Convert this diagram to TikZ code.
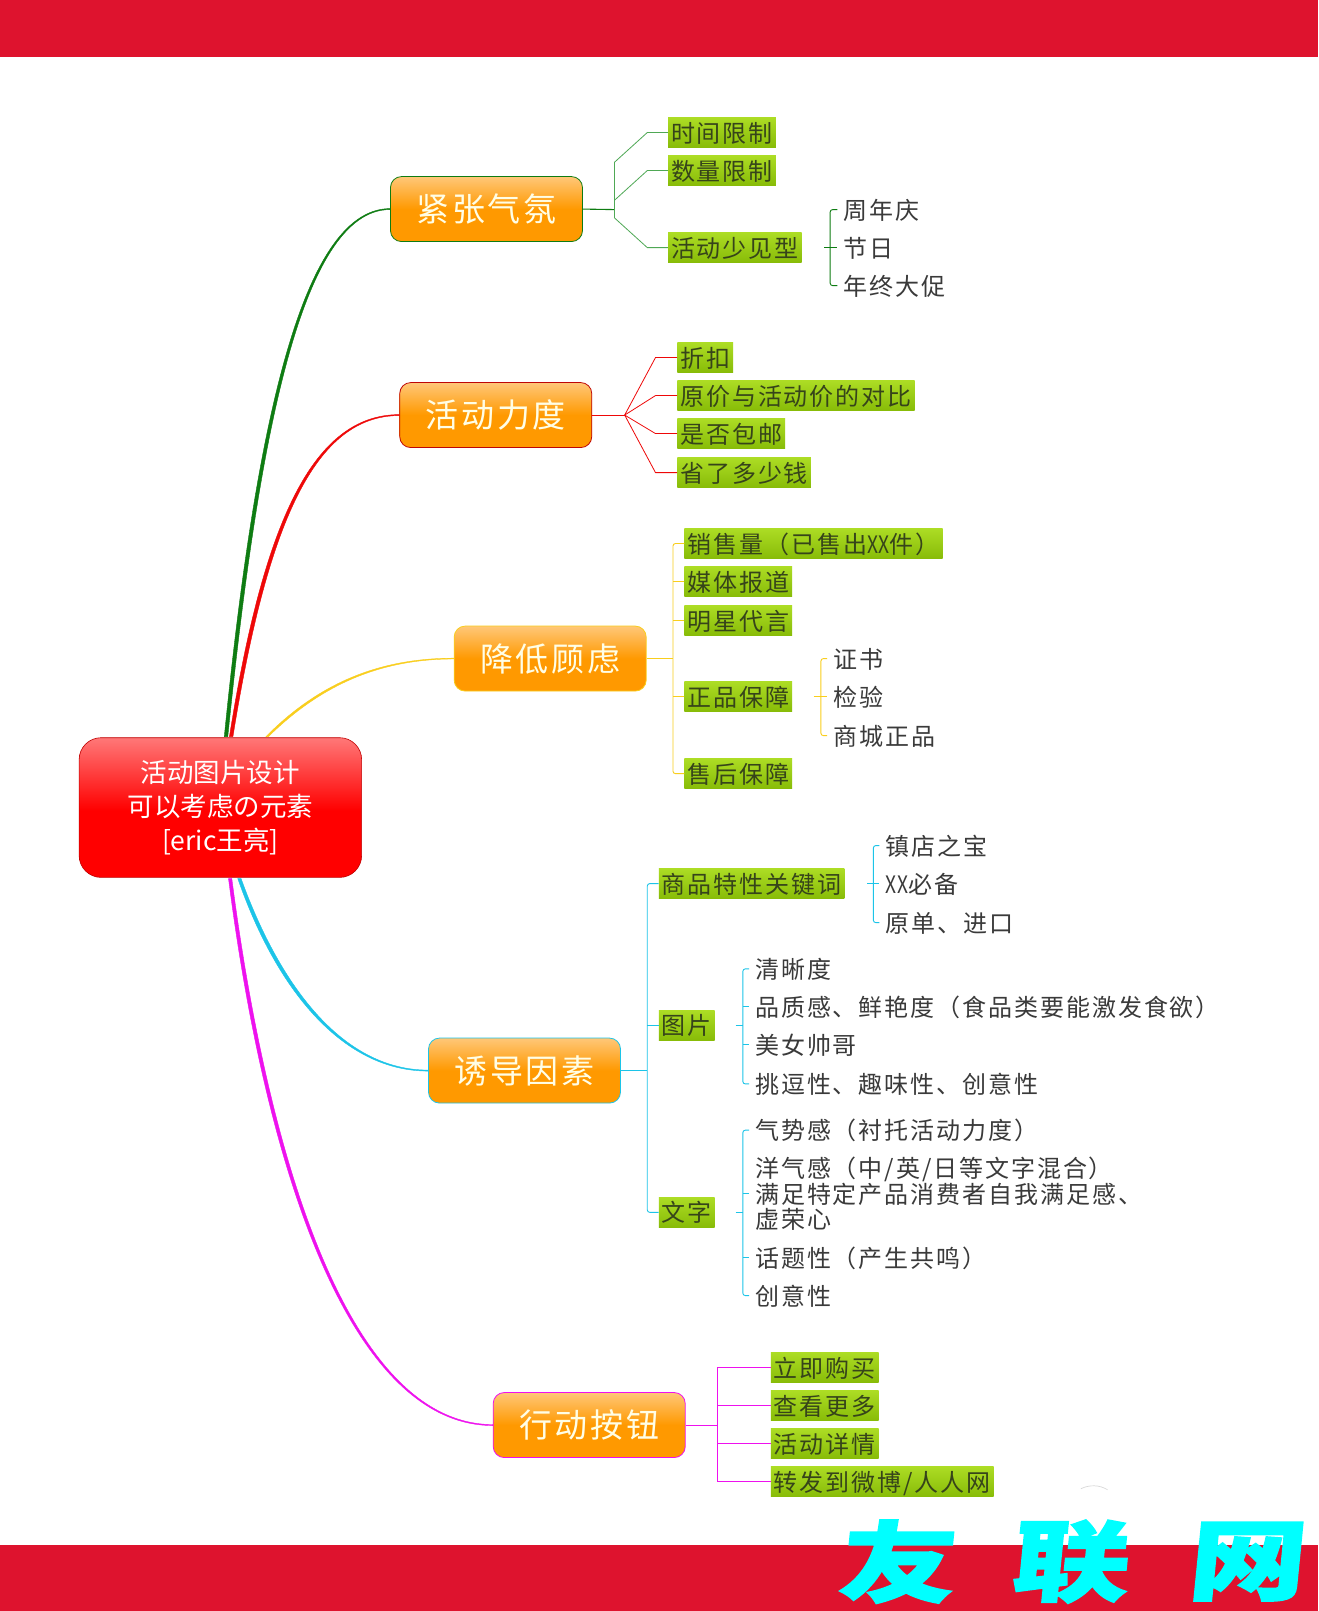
\documentclass[tikz,border=0pt]{standalone}
\usepackage{fontspec}
\newfontfamily\cjk[LetterSpace=8]{Noto Sans CJK SC}
\newfontfamily\cjkroot{Noto Sans CJK SC}
\newfontfamily\cjknarrow[FakeStretch=.8,LetterSpace=3]{Noto Sans CJK SC}
\newfontfamily\wmfont[FakeBold=2,FakeStretch=1.33,FakeSlant=0.1]{Noto Sans CJK SC}
\newcommand{\narrowxx}{{\cjknarrow\fontsize{24}{25}\selectfont XX}}
\definecolor{barred}{HTML}{DE132E}
\definecolor{bgreen}{HTML}{0E7C12}
\definecolor{bred}{HTML}{EE0808}
\definecolor{byellow}{HTML}{F9CE1D}
\definecolor{bcyan}{HTML}{1CC4E8}
\definecolor{bmag}{HTML}{EE11EE}
\definecolor{lgreen}{HTML}{4FA855}
\definecolor{inkdark}{HTML}{36441A}
\definecolor{inkgray}{HTML}{3A3A3A}
\definecolor{wmcyan}{HTML}{00FFFF}
\pgfdeclareverticalshading{topicfade}{100bp}{rgb(0bp)=(1,0.6,0); rgb(50bp)=(1,0.6,0); rgb(75bp)=(1,0.78,0.47); rgb(100bp)=(1,0.78,0.47)}
\pgfdeclareverticalshading{rootfade}{100bp}{rgb(0bp)=(1,0,0); rgb(49bp)=(1,0,0); rgb(75bp)=(1,0.47,0.47); rgb(100bp)=(1,0.47,0.47)}
\tikzset{
  bar/.style={fill=barred,draw=none},
  rootbox/.style={rounded corners=22pt,minimum width=282.5pt,minimum height=139.7pt,inner sep=0pt,
    shading=rootfade,draw=red!75!black,line width=.6pt,
    text=white,align=center,font=\cjkroot\fontsize{26.5}{34.4}\selectfont},
  topicbox/.style={rounded corners=11pt,minimum width=192pt,minimum height=65pt,inner sep=0pt,
    shading=topicfade,
    text=white!90!yellow,font=\cjk\fontsize{33}{36}\selectfont,line width=.8pt},
  glabel/.style={anchor=west,inner xsep=3pt,inner ysep=0pt,minimum height=29.5pt,
    top color={rgb,255:red,172;green,220;blue,36},bottom color={rgb,255:red,136;green,188;blue,8},
    text=inkdark,font=\cjk\fontsize{24}{25}\selectfont,text height=21.5pt,text depth=2.5pt},
  plabel/.style={anchor=west,inner xsep=6pt,inner ysep=0pt,text=inkgray,align=left,
    font=\cjk\fontsize{24}{25.2}\selectfont,text height=21.5pt,text depth=2.5pt},
  thinline/.style={line width=.8pt},
  twig/.style={line width=.9pt,rounded corners=2.5pt},
  wmark/.style={text=wmcyan,inner sep=0pt,font=\wmfont\bfseries\fontsize{88}{92}\selectfont}
}
\begin{document}
\begin{tikzpicture}[x=1.02729pt,y=-1.02729pt]
\useasboundingbox (0,0) rectangle (1283,1568);
\fill[white] (0,0) rectangle (1283,1568);
\fill[bar] (0,0) rectangle (1283,55.5);
\fill[bar] (0,1504) rectangle (1283,1568);

% root and topics
\node[rootbox] (root) at (214.5,786) {活动图片设计\\可以考虑の元素\\{[eric王亮]}};
\node[topicbox,draw=bgreen] (A) at (473.5,203.5) {紧张气氛};
\node[topicbox,draw=bred!80!black] (B) at (482.5,404) {活动力度};
\node[topicbox,draw=byellow] (C) at (535.5,641) {降低顾虑};
\node[topicbox,draw=bcyan] (D) at (510.5,1042) {诱导因素};
\node[topicbox,draw=bmag] (E) at (573.5,1387) {行动按钮};

% tapered connectors from the root
\draw[bgreen,fill=bgreen,line width=.4pt] (218.3,717) .. controls (246,440) and (289,203) .. ([yshift=.5pt]A.west) -- ([yshift=-.5pt]A.west) .. controls (291,204) and (250,440) .. (221.7,717) -- cycle;
\draw[bred,fill=bred,line width=.4pt] (223.3,717) .. controls (256,510) and (304,403.5) .. ([yshift=.5pt]B.west) -- ([yshift=-.5pt]B.west) .. controls (306,404.5) and (260,510) .. (226.7,717) -- cycle;
\draw[byellow,fill=byellow,line width=.4pt] (258.8,717) .. controls (314,661) and (375,640.6) .. ([yshift=.4pt]C.west) -- ([yshift=-.4pt]C.west) .. controls (375,641.4) and (316,663) .. (261.2,717) -- cycle;
\draw[bcyan,fill=bcyan,line width=.4pt] (231.4,855) .. controls (270,966) and (335,1042.5) .. ([yshift=-.5pt]D.west) -- ([yshift=.5pt]D.west) .. controls (336,1041.5) and (274,964) .. (234.6,855) -- cycle;
\draw[bmag,fill=bmag,line width=.4pt] (222.4,855) .. controls (260,1150) and (344,1387.5) .. ([yshift=-.5pt]E.west) -- ([yshift=.5pt]E.west) .. controls (346,1386.5) and (264,1150) .. (225.6,855) -- cycle;

% branch A
\node[glabel] (a1) at (650,129) {时间限制};
\node[glabel] (a2) at (650,166) {数量限制};
\node[glabel] (a3) at (650,241) {活动少见型};
\coordinate (aj) at (598,204);
\coordinate (aT) at (598,158);
\coordinate (aM) at (598,195);
\coordinate (aB) at (598,212);
\draw[bgreen,line width=1.1pt] (A.east) -- (aj);
\draw[lgreen,thinline] (aT) -- (aB);
\draw[lgreen,thinline] (aT) -- (630,129) -- (a1.west);
\draw[lgreen,thinline] (aM) -- (630,166) -- (a2.west);
\draw[lgreen,thinline] (aB) -- (630,241) -- (a3.west);
\node[plabel] (a31) at (815,204) {周年庆};
\node[plabel] (a32) at (815,241) {节日};
\node[plabel] (a33) at (815,278) {年终大促};
\coordinate (aj2) at (808,241);
\draw[bgreen,twig] (a31.west) -| (aj2) |- (a33.west);
\draw[bgreen,twig] (802,241) -- (a32.west);

% branch B
\node[glabel] (b1) at (659,348) {折扣};
\node[glabel] (b2) at (659,385) {原价与活动价的对比};
\node[glabel] (b3) at (659,422) {是否包邮};
\node[glabel] (b4) at (659,460) {省了多少钱};
\coordinate (bj) at (608,404);
\draw[bred,line width=1pt] (B.east) -- (bj);
\draw[bred,thinline] (bj) -- (638,348) -- (b1.west);
\draw[bred,thinline] (bj) -- (638,385) -- (b2.west);
\draw[bred,thinline] (bj) -- (638,422) -- (b3.west);
\draw[bred,thinline] (bj) -- (638,460) -- (b4.west);

% branch C
\node[glabel] (c1) at (666,529) {销售量（已售出\narrowxx 件）};
\node[glabel] (c2) at (666,566) {媒体报道};
\node[glabel] (c3) at (666,604) {明星代言};
\node[glabel] (c4) at (666,678) {正品保障};
\node[glabel] (c5) at (666,753) {售后保障};
\coordinate (cj) at (655,641);
\draw[byellow,line width=1.1pt] (C.east) -- (cj);
\draw[byellow,twig] (c1.west) -| (cj) |- (c5.west);
\foreach \n in {c2,c3,c4} \draw[byellow,twig] (\n.west) -- (\n.west -| cj);
\node[plabel] (c41) at (805,641) {证书};
\node[plabel] (c42) at (805,678) {检验};
\node[plabel] (c43) at (805,716) {商城正品};
\coordinate (cj2) at (799,678);
\draw[byellow,twig] (c41.west) -| (cj2) |- (c43.west);
\draw[byellow,twig] (792,678) -- (c42.west);

% branch D
\node[glabel] (d1) at (641,860) {商品特性关键词};
\node[glabel] (d2) at (641,998) {图片};
\node[glabel] (d3) at (641,1180) {文字};
\coordinate (dj) at (630,1042);
\draw[bcyan,line width=1.1pt] (D.east) -- (dj);
\draw[bcyan,twig] (d1.west) -| (dj) |- (d3.west);
\draw[bcyan,twig] (d2.west) -- (d2.west -| dj);
\node[plabel] (d11) at (856,823) {镇店之宝};
\node[plabel] (d12) at (856,860) {\narrowxx 必备};
\node[plabel] (d13) at (856,898) {原单、进口};
\coordinate (dj1) at (850,860);
\draw[bcyan,twig] (d11.west) -| (dj1) |- (d13.west);
\draw[bcyan,twig] (844,860) -- (d12.west);
\node[plabel] (d21) at (729,943) {清晰度};
\node[plabel] (d22) at (729,980) {品质感、鲜艳度（食品类要能激发食欲）};
\node[plabel] (d23) at (729,1017) {美女帅哥};
\node[plabel] (d24) at (729,1055) {挑逗性、趣味性、创意性};
\coordinate (dj2) at (723,998);
\draw[bcyan,twig] (d21.west) -| (dj2) |- (d24.west);
\draw[bcyan,twig] (716,998) -- (dj2);
\foreach \n in {d22,d23} \draw[bcyan,twig] (\n.west) -- (\n.west -| dj2);
\node[plabel] (d31) at (729,1100) {气势感（衬托活动力度）};
\node[plabel,text height=,text depth=] (d32) at (729,1162) {洋气感（中/英/日等文字混合）\\满足特定产品消费者自我满足感、\\虚荣心};
\node[plabel] (d33) at (729,1224) {话题性（产生共鸣）};
\node[plabel] (d34) at (729,1261) {创意性};
\coordinate (dj3) at (723,1180);
\draw[bcyan,twig] (d31.west) -| (dj3) |- (d34.west);
\draw[bcyan,twig] (716,1180) -- (dj3);
\foreach \n in {d32,d33} \draw[bcyan,twig] (\n.west) -- (\n.west -| dj3);

% branch E
\node[glabel] (e1) at (750,1331) {立即购买};
\node[glabel] (e2) at (750,1368) {查看更多};
\node[glabel] (e3) at (750,1405) {活动详情};
\node[glabel] (e4) at (750,1442) {转发到微博/人人网};
\coordinate (ej) at (698,1387);
\draw[bmag,line width=1.1pt] (E.east) -- (ej);
\draw[bmag,thinline] (e1.west) -| (ej) |- (e4.west);
\foreach \n in {e2,e3} \draw[bmag,thinline] (\n.west) -- (\n.west -| ej);

% watermark
\node[wmark] (w1) at (872,1520) {友};
\node[wmark] (w2) at (1040,1520) {联};
\node[wmark] (w3) at (1212,1520) {网};
\draw[black!15,line width=.7pt] (1052,1449) .. controls (1060,1445) and (1070,1445) .. (1078,1450);
\end{tikzpicture}
\end{document}
